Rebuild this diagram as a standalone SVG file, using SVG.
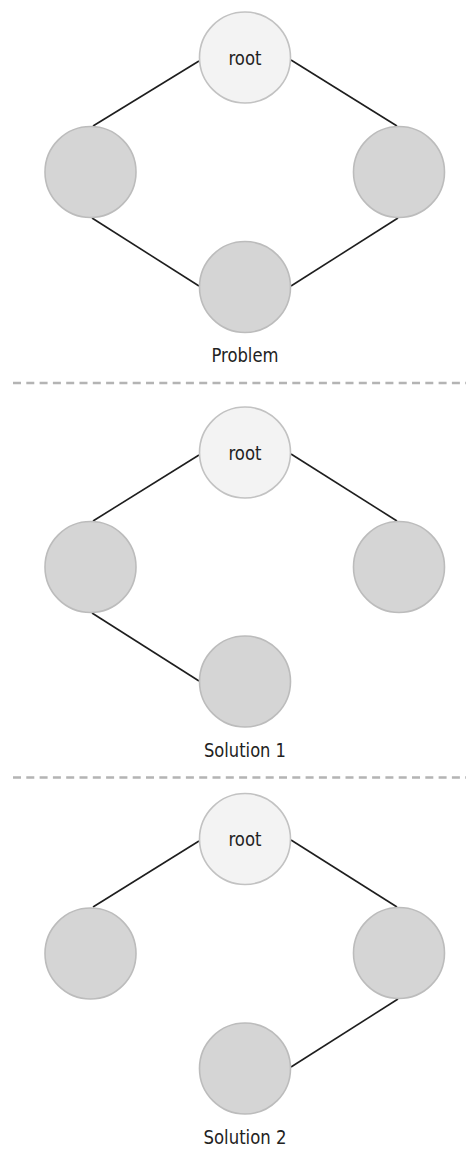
<svg xmlns="http://www.w3.org/2000/svg" width="466" height="1149" viewBox="0 0 466 1149">
<style>
.root{fill:#f3f3f3;stroke:#c2c2c2;stroke-width:1.6}
.node{fill:#d5d5d5;stroke:#bcbcbc;stroke-width:1.6}
.edge{stroke:#1e1e1e;stroke-width:1.6;fill:none}
.sep{stroke:#b4b4b4;stroke-width:2.5;stroke-dasharray:8 5.3}
text{font-family:"DejaVu Sans Condensed","DejaVu Sans",sans-serif;font-stretch:condensed;font-size:20px;fill:#222;text-anchor:middle}
</style>
<rect width="466" height="1149" fill="#ffffff"/>
<g id="separators">
<line class="sep" x1="13" y1="383" x2="466" y2="383"/>
<line class="sep" x1="13" y1="777.5" x2="466" y2="777.5"/>
</g>
<g id="connectors">
<line class="edge" x1="199" y1="61" x2="93" y2="126"/>
<line class="edge" x1="291" y1="60" x2="397" y2="126"/>
<line class="edge" x1="92" y1="218" x2="199" y2="286"/>
<line class="edge" x1="398" y1="218" x2="291" y2="286"/>
<line class="edge" x1="199" y1="455" x2="93" y2="521"/>
<line class="edge" x1="291" y1="454" x2="397" y2="521"/>
<line class="edge" x1="92" y1="613" x2="199" y2="681"/>
<line class="edge" x1="199" y1="841" x2="93" y2="907"/>
<line class="edge" x1="291" y1="840" x2="397" y2="907"/>
<line class="edge" x1="398" y1="999" x2="291" y2="1067"/>
</g>
<g id="problem">
<g id="p-root"><circle class="root" cx="245" cy="57.5" r="45.5"/><text x="245" y="65" textLength="33" lengthAdjust="spacingAndGlyphs">root</text></g>
<g id="p-left"><circle class="node" cx="90.5" cy="172" r="45.5"/></g>
<g id="p-right"><circle class="node" cx="399" cy="172" r="45.5"/></g>
<g id="p-bottom"><circle class="node" cx="245" cy="287" r="45.5"/></g>
<text id="p-label" x="245" y="362" textLength="67" lengthAdjust="spacingAndGlyphs">Problem</text>
</g>
<g id="solution1">
<g id="s1-root"><circle class="root" cx="245" cy="452.5" r="45.5"/><text x="245" y="459.5" textLength="33" lengthAdjust="spacingAndGlyphs">root</text></g>
<g id="s1-left"><circle class="node" cx="90.5" cy="567" r="45.5"/></g>
<g id="s1-right"><circle class="node" cx="399" cy="567" r="45.5"/></g>
<g id="s1-bottom"><circle class="node" cx="245" cy="681.5" r="45.5"/></g>
<text id="s1-label" x="245" y="757" textLength="82" lengthAdjust="spacingAndGlyphs">Solution 1</text>
</g>
<g id="solution2">
<g id="s2-root"><circle class="root" cx="245" cy="839" r="45.5"/><text x="245" y="846" textLength="33" lengthAdjust="spacingAndGlyphs">root</text></g>
<g id="s2-left"><circle class="node" cx="90.5" cy="953.5" r="45.5"/></g>
<g id="s2-right"><circle class="node" cx="399" cy="953" r="45.5"/></g>
<g id="s2-bottom"><circle class="node" cx="245" cy="1068.5" r="45.5"/></g>
<text id="s2-label" x="245" y="1144" textLength="83" lengthAdjust="spacingAndGlyphs">Solution 2</text>
</g>
</svg>
